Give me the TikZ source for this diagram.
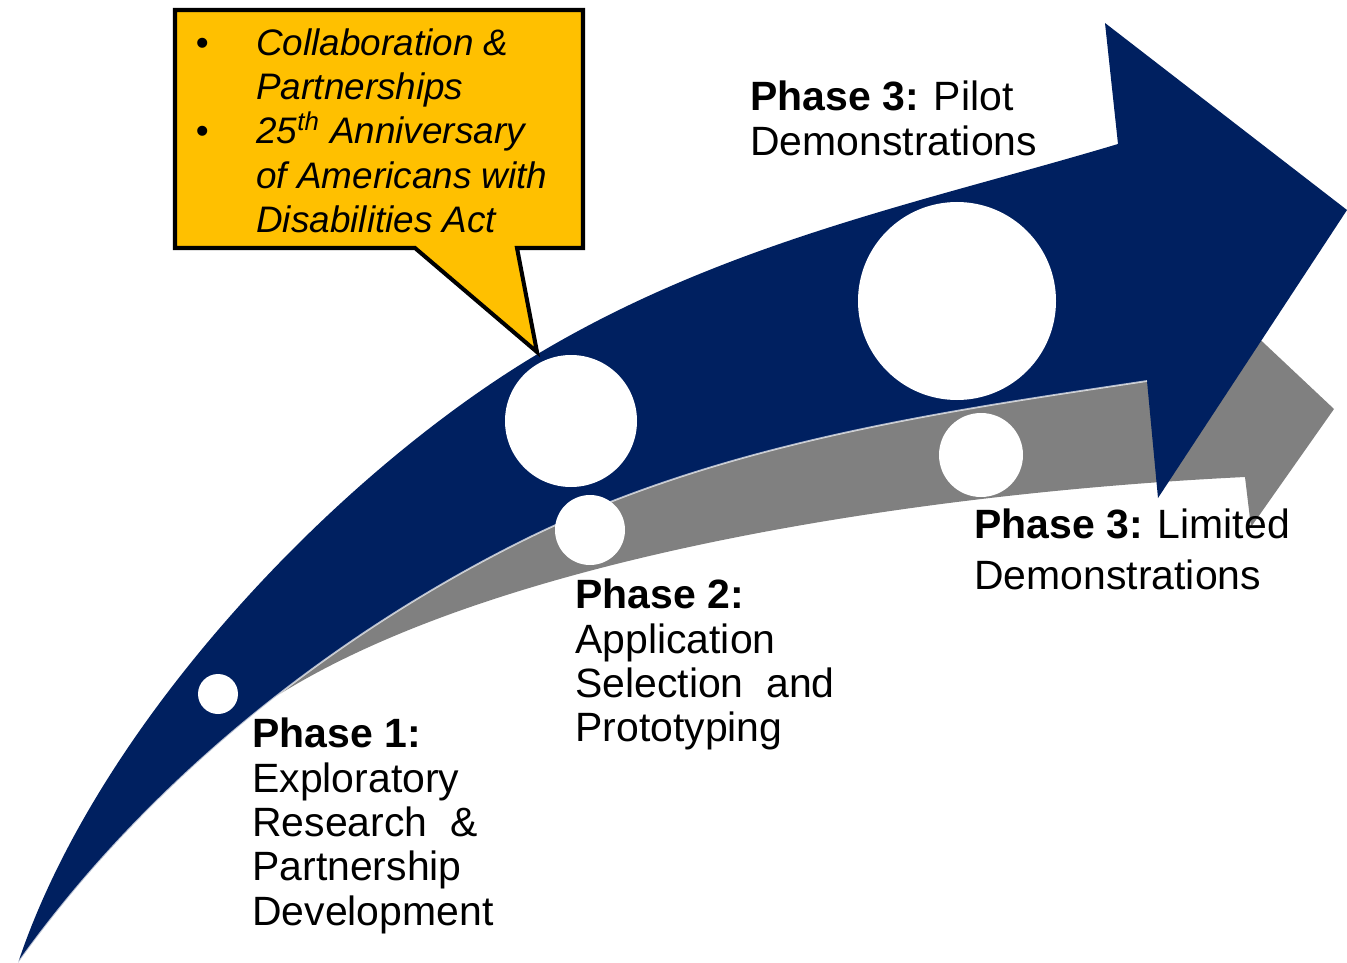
\documentclass[tikz,border=0pt]{standalone}
\usepackage{fontspec}
\setmainfont{Liberation Sans}
\definecolor{phaseblue}{RGB}{0,32,96}
\definecolor{phasegrey}{RGB}{128,128,128}
\definecolor{callgold}{RGB}{255,192,0}
\tikzset{
	phasetext/.style={anchor=north west, inner sep=0pt, align=left, font=\fontsize{23.3}{25.3}\selectfont},
	calltext/.style={anchor=north west, inner sep=0pt, align=left, font=\fontsize{21}{25.3}\selectfont\itshape},
	milestone/.style={fill=white},
}
\begin{document}
\begin{tikzpicture}[x=0.02cm, y=-0.02cm]
			%%%%% START %%%%%
			\useasboundingbox (0,0) rectangle (1347,963);
			
			% grey arrow (behind)
			\fill[phasegrey] (225,733) -- (260,680) .. controls (380,600) and (450,560) .. (520,530) .. controls (720,430) and (947,400) .. (1147,370) -- (1245,360) -- (1250,330) -- (1334,409) -- (1251,527) -- (1245,477) .. controls (895,494) and (427,567) .. (225,733) -- cycle;
			
			% blue arrow
			\fill[phaseblue] (18,963) .. controls (98,723) and (336,475) .. (536,355) .. controls (726,241) and (928,201) .. (1118,144) -- (1105,23) -- (1347,210) -- (1158,498) -- (1147,381) .. controls (947,411) and (720,442) .. (520,542) .. controls (370,617) and (168,753) .. (18,963) -- cycle;
			\draw[white, line width=1pt, opacity=0.7] (1147,381) .. controls (947,411) and (720,442) .. (520,542) .. controls (370,617) and (168,753) .. (18,963);
			
			% milestones
			\fill[milestone] (218,694) circle[radius=20];
			\fill[milestone] (571,421) circle[radius=66];
			\fill[milestone] (590,530) circle[radius=35];
			\fill[milestone] (957,301) circle[radius=99];
			\fill[milestone] (981,455) circle[radius=42];
			
			% callout
			\draw[fill=callgold, line width=2.3pt, line join=miter] (175,10) -- (583,10) -- (583,248) -- (517,248) -- (537,352) -- (415,248) -- (175,248) -- cycle;
			\node[calltext] (callnote) at (195.5,28) {\makebox[1.21cm][l]{\upshape\textbullet}Collaboration \&\\
				\hspace*{1.21cm}Partnerships\\
				\makebox[1.21cm][l]{\upshape\textbullet}25\textsuperscript{th} Anniversary\\
				\hspace*{1.21cm}of Americans with\\
				\hspace*{1.21cm}Disabilities Act};
			
			% phase labels
			\node[phasetext] (phaseone) at (252,717.6) {\textbf{Phase 1:}\\ Exploratory\\ Research \ \&\\ Partnership\\ Development};
			\node[phasetext] (phasetwo) at (575,578.6) {\textbf{Phase 2:}\\ Application\\ Selection \ and\\ Prototyping};
			\node[phasetext] (phasepilot) at (750,80.6) {\textbf{Phase 3:} Pilot\\ Demonstrations};
			\node[phasetext, font=\fontsize{23.3}{29}\selectfont] (phaselimited) at (974,508.6) {\textbf{Phase 3:} Limited\\ Demonstrations};
			
			%%%%% END %%%%%
\end{tikzpicture}
\end{document}
